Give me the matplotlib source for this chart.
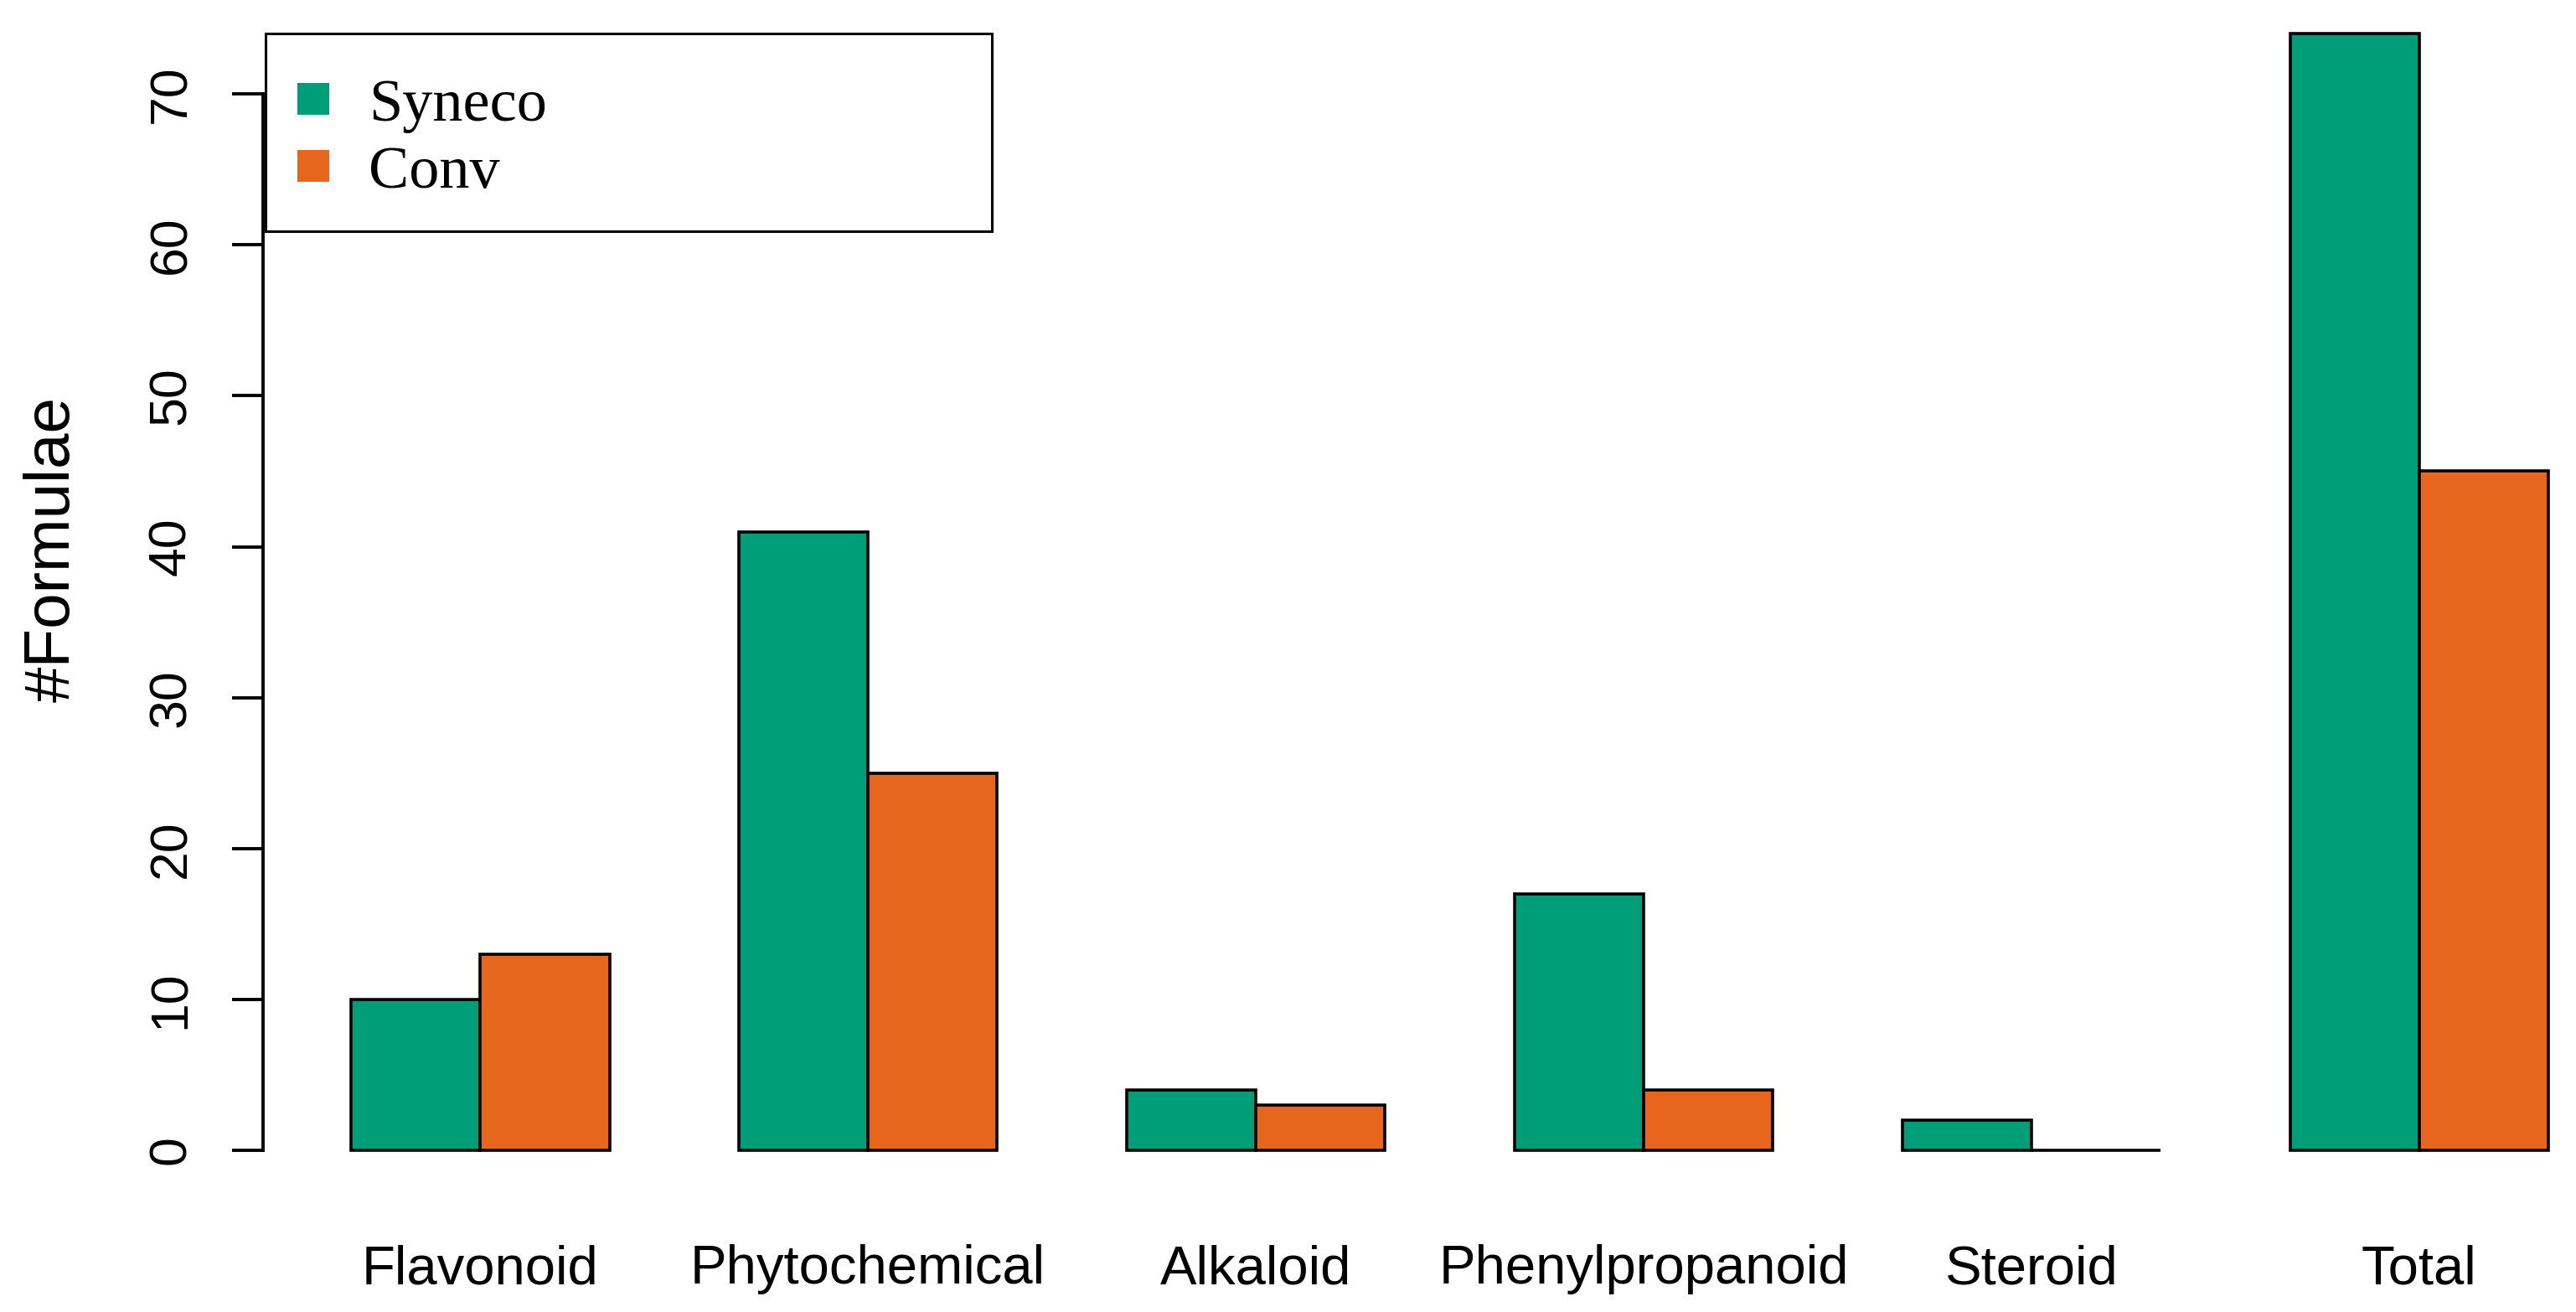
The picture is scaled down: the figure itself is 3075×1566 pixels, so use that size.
import matplotlib
matplotlib.use("Agg")
import matplotlib.pyplot as plt
import numpy as np
from matplotlib.patches import Patch, Rectangle
from matplotlib.legend_handler import HandlerPatch

categories = ["Flavonoid", "Phytochemical", "Alkaloid", "Phenylpropanoid", "Steroid", "Total"]
syneco = [10, 41, 4, 17, 2, 74]
conv = [13, 25, 3, 4, 0, 45]
series_names = ["Syneco", "Conv"]
yticks = [0, 10, 20, 30, 40, 50, 60, 70]

GREEN = "#009E78"
ORANGE = "#E6661E"

DPI = 100
W, H = 3075, 1566
fig = plt.figure(figsize=(W / DPI, H / DPI), dpi=DPI)
ax = fig.add_axes([314 / W, 0.08876, 1 - 314 / W, 0.91124])

n = len(categories)
group_start = 1 + 3 * np.arange(n)
ax.bar(group_start + 0.5, syneco, width=1.0, color=GREEN, edgecolor="black", linewidth=2.6)
ax.bar(group_start + 1.5, conv, width=1.0, color=ORANGE, edgecolor="black", linewidth=2.6)

ax.set_xlim(0.32, 18.213)
ax.set_ylim(-3.0, 76.23)

for s in ["top", "right", "bottom"]:
    ax.spines[s].set_visible(False)
ax.spines["left"].set_bounds(0, 70)
ax.spines["left"].set_linewidth(2.8)

ax.set_yticks(yticks)
ax.set_yticklabels([str(t) for t in yticks], rotation=90, va="center",
                   fontfamily="Liberation Sans", fontsize=45)
ax.tick_params(axis="y", length=26.6, width=2.8, pad=31)

ax.set_xticks(group_start + 1.0)
ax.set_xticklabels(categories, fontfamily="Liberation Sans", fontsize=47)
ax.tick_params(axis="x", length=0, pad=42)

ax.set_ylabel("#Formulae", fontfamily="Liberation Sans", fontsize=55)
ax.yaxis.set_label_coords(99 / W, 1 - 655 / H, transform=fig.transFigure)


def square_right(legend, orig_handle, xdescent, ydescent, width, height, fontsize):
    return Rectangle((width - height - xdescent, -ydescent), height, height)


handles = [Patch(facecolor=GREEN, edgecolor="none"), Patch(facecolor=ORANGE, edgecolor="none")]
leg = ax.legend(handles, series_names, loc="upper left",
                bbox_to_anchor=(317 / W, 1 - 40 / H, (1184 - 317) / W, 0.0),
                bbox_transform=fig.transFigure, mode="expand", borderaxespad=0,
                prop={"family": "Liberation Serif", "size": 52},
                handlelength=0.53, handleheight=0.43, handletextpad=0.65,
                borderpad=0.52, labelspacing=0.21, fancybox=False, framealpha=1,
                title=" ", title_fontsize=0.5,
                handler_map={Patch: HandlerPatch(patch_func=square_right)})
leg.get_frame().set_edgecolor("black")
leg.get_frame().set_linewidth(2.2)

fig.savefig("out.png", dpi=DPI)
